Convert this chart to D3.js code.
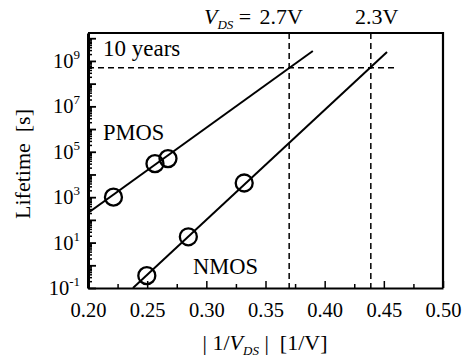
<!DOCTYPE html>
<html><head><meta charset="utf-8">
<script src="https://cdn.jsdelivr.net/npm/d3@7"></script>
<style>body{margin:0;background:#fff}svg{display:block}</style>
</head><body><svg id="c" width="464" height="358"></svg>
<script>
// data
const pmosX = [0.2215, 0.2566, 0.2676];
const pmosY = [1.0e3, 3.0e4, 5.0e4];
const nmosX = [0.2497, 0.2848, 0.3320];
const nmosY = [0.35, 18, 4.2e3];
const pmosFitX = [0.200, 0.390];
const pmosFitY = [2.0e2, 2.75e9];
const nmosFitX = [0.238, 0.4527];
const nmosFitY = [0.1, 2.5e9];
const tenYears = 5.0e8;
const vdsLinesX = [0.370, 0.439];
const vdsLabels = ["2.7V", "2.3V"];
const xTicks = [0.20, 0.25, 0.30, 0.35, 0.40, 0.45, 0.50];
const yTickExps = [-1, 1, 3, 5, 7, 9];

const FONT = '"Liberation Serif"';
const svg = d3.select("#c");
const L = 88, R = 443, T = 33, B = 288;
const x = d3.scaleLinear().domain([0.20, 0.50]).range([L, R]);
const y = d3.scaleLog().domain([0.1, Math.pow(10, 10.23)]).range([B, T]);

function txt(sel) { return sel.append("text").style("font-family", FONT).attr("fill", "#000").style("white-space", "pre"); }

svg.append("clipPath").attr("id", "clip").append("rect").attr("x", L).attr("y", T).attr("width", R - L).attr("height", B - T);

// frame
svg.append("path").attr("d", `M${L},${T}H${R}V${B}`).attr("fill", "none").attr("stroke", "#000").attr("stroke-width", 2.2);

// bottom axis (ticks inward)
const xMinor = d3.range(0.225, 0.5, 0.05);
svg.append("g").attr("transform", `translate(0,${B})`)
  .call(d3.axisBottom(x).tickValues(xTicks).tickSizeInner(-7).tickSizeOuter(0).tickFormat(d3.format(".2f")))
  .call(g => g.select(".domain").attr("stroke-width", 2.2))
  .call(g => g.selectAll(".tick line").attr("stroke-width", 1.5))
  .call(g => g.selectAll(".tick text").attr("font-size", 20.5).attr("y", 29).attr("dy", 0).style("font-family", FONT));
svg.append("g").attr("transform", `translate(0,${B})`)
  .call(d3.axisBottom(x).tickValues(xMinor).tickSizeInner(-4).tickSizeOuter(0).tickFormat(""))
  .call(g => g.select(".domain").remove())
  .call(g => g.selectAll(".tick line").attr("stroke-width", 1.5));

// left axis
const majors = d3.range(-1, 11).map(e => Math.pow(10, e)).filter(v => v <= y.domain()[1]);
const minors = [];
d3.range(-1, 11).forEach(e => { for (let k = 2; k <= 9; k++) { const v = k * Math.pow(10, e); if (v <= y.domain()[1]) minors.push(v); } });
svg.append("g").attr("transform", `translate(${L},0)`)
  .call(d3.axisLeft(y).tickValues(minors).tickSizeInner(-4).tickSizeOuter(0).tickFormat(""))
  .call(g => g.select(".domain").remove())
  .call(g => g.selectAll(".tick line").attr("stroke-width", 1.5));
svg.append("g").attr("transform", `translate(${L},0)`)
  .call(d3.axisLeft(y).tickValues(majors).tickSizeInner(-8).tickSizeOuter(0).tickFormat(""))
  .call(g => g.select(".domain").attr("stroke-width", 3))
  .call(g => g.selectAll(".tick line").attr("stroke-width", 1.8));
// y tick labels with superscripts
yTickExps.forEach(e => {
  const t = txt(svg).attr("x", 80).attr("y", y(Math.pow(10, e)) + 7).attr("text-anchor", "end").attr("font-size", 20.5);
  t.append("tspan").text("10");
  t.append("tspan").attr("dy", -9).attr("font-size", 13).text(e < 0 ? "-" + Math.abs(e) : String(e));
});

const g = svg.append("g").attr("clip-path", "url(#clip)");
// dashed reference lines
g.append("line").attr("x1", x(0.20)).attr("x2", x(0.4595)).attr("y1", y(tenYears)).attr("y2", y(tenYears))
  .attr("stroke", "#000").attr("stroke-width", 1.5).attr("stroke-dasharray", "6,4");
vdsLinesX.forEach(v => {
  svg.append("line").attr("x1", x(v)).attr("x2", x(v)).attr("y1", T).attr("y2", B + 3)
    .attr("stroke", "#000").attr("stroke-width", 1.5).attr("stroke-dasharray", "6,4");
});
// fit lines
const line = d3.line().x(d => x(d[0])).y(d => y(d[1]));
g.append("path").attr("d", line(d3.zip(pmosFitX, pmosFitY))).attr("stroke", "#000").attr("stroke-width", 2).attr("fill", "none");
g.append("path").attr("d", line(d3.zip(nmosFitX, nmosFitY))).attr("stroke", "#000").attr("stroke-width", 2).attr("fill", "none");
// points
[[pmosX, pmosY], [nmosX, nmosY]].forEach(([xs, ys]) => {
  svg.selectAll(null).data(d3.zip(xs, ys)).enter().append("circle")
    .attr("cx", d => x(d[0])).attr("cy", d => y(d[1])).attr("r", 8.5)
    .attr("fill", "none").attr("stroke", "#000").attr("stroke-width", 2.3);
});

// annotations
txt(svg).attr("x", 103).attr("y", 56).attr("font-size", 23).text("10 years");
txt(svg).attr("x", 103).attr("y", 140).attr("font-size", 22.5).text("PMOS");
txt(svg).attr("x", 193).attr("y", 274).attr("font-size", 22.5).text("NMOS");

// top labels
const tv = txt(svg).attr("x", 204).attr("y", 24).attr("font-size", 22);
tv.append("tspan").attr("font-style", "italic").text("V");
tv.append("tspan").attr("font-style", "italic").attr("font-size", 13).attr("dy", 5).text("DS");
tv.append("tspan").attr("dy", -5).text(" =");
const offs = [-8, 6];
vdsLinesX.forEach((v, i) => {
  txt(svg).attr("x", x(v) + offs[i]).attr("y", 24).attr("font-size", 22).attr("text-anchor", "middle").text(vdsLabels[i]);
});

// axis titles
txt(svg).attr("transform", "translate(30,164) rotate(-90)").attr("text-anchor", "middle").attr("font-size", 22).text("Lifetime  [s]");
const xt = txt(svg).attr("x", 265).attr("y", 350).attr("text-anchor", "middle").attr("font-size", 22);
xt.append("tspan").text("| 1/");
xt.append("tspan").attr("font-style", "italic").text("V");
xt.append("tspan").attr("font-style", "italic").attr("font-size", 13).attr("dy", 5).text("DS");
xt.append("tspan").attr("dy", -5).text(" |  [1/V]");
</script></body></html>
